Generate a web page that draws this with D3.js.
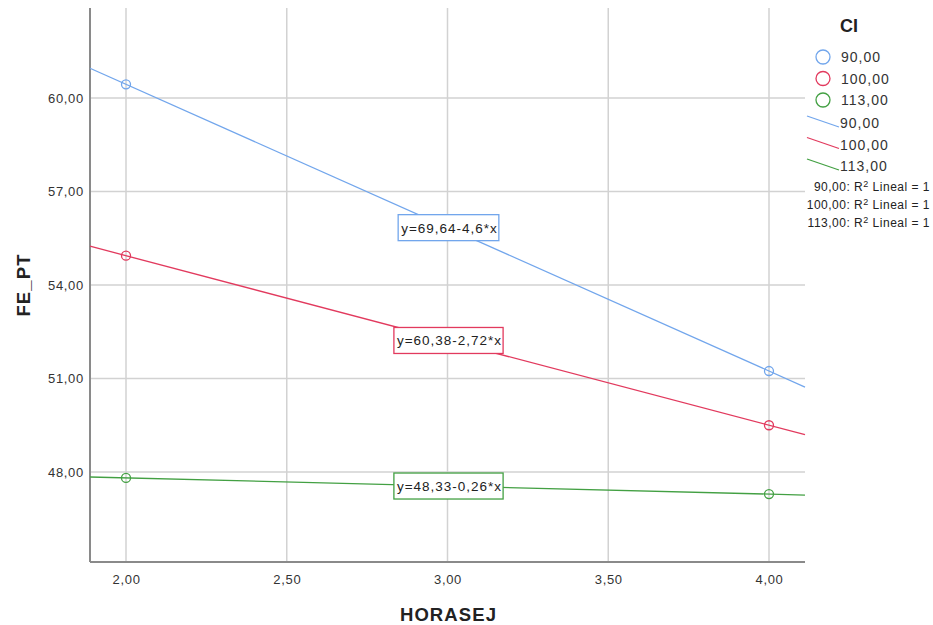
<!DOCTYPE html>
<html><head><meta charset="utf-8">
<script src="https://cdn.jsdelivr.net/npm/d3@7"></script>
<style>body{margin:0;background:#fff;font-family:"Liberation Sans",Arial,sans-serif}</style>
</head><body>
<svg id="c" width="933" height="625"></svg>
<script>
const groups = ["90,00", "100,00", "113,00"];
const colors = ["#72a6ec", "#e23a5e", "#43a043"];
const xValues = [2, 4];
const yValues90 = [60.44, 51.24];
const yValues100 = [54.94, 49.50];
const yValues113 = [47.81, 47.29];
const intercepts = [69.64, 60.38, 48.33];
const slopes = [-4.6, -2.72, -0.26];
const eqLabels = ["y=69,64-4,6*x", "y=60,38-2,72*x", "y=48,33-0,26*x"];
const xTicks = [2, 2.5, 3, 3.5, 4];
const yTicks = [48, 51, 54, 57, 60];
const r2Labels = ["90,00: R", "100,00: R", "113,00: R"];

const series = [yValues90, yValues100, yValues113];
const fmt = v => d3.format(".2f")(v).replace(".", ",");

const svg = d3.select("#c");
const L = 90, R = 805, T = 8, B = 562;
const x = d3.scaleLinear().domain([1.888, 4.112]).range([L, R]);
const y = d3.scaleLinear().domain([45.112, 62.888]).range([B, T]);

// grid
svg.append("g").selectAll("line").data(xTicks).join("line")
  .attr("x1", d => x(d)).attr("x2", d => x(d)).attr("y1", T).attr("y2", B)
  .attr("stroke", "#d2d2d2").attr("stroke-width", 1.5);
svg.append("g").selectAll("line").data(yTicks).join("line")
  .attr("x1", L).attr("x2", R).attr("y1", d => y(d)).attr("y2", d => y(d))
  .attr("stroke", "#d2d2d2").attr("stroke-width", 1.5);

// axes
const xa = svg.append("g").attr("transform", `translate(0,${B})`)
  .call(d3.axisBottom(x).tickValues(xTicks).tickFormat(fmt).tickSize(0).tickPadding(13));
const ya = svg.append("g").attr("transform", `translate(${L},0)`)
  .call(d3.axisLeft(y).tickValues(yTicks).tickFormat(fmt).tickSize(0).tickPadding(6));
[xa, ya].forEach(a => {
  a.select(".domain").attr("stroke", "#8a8a8a").attr("stroke-width", 2);
  a.selectAll("text").attr("font-size", 13).attr("letter-spacing", 0.7).attr("fill", "#333")
    .attr("font-family", "Liberation Sans, Arial, sans-serif");
});
ya.select(".domain").attr("d", `M0,${T}V${B}`);
xa.select(".domain").attr("d", `M0,0H${R - L}`).attr("transform", `translate(${L},0)`);

// fit lines
const [x0, x1] = x.domain();
series.forEach((s, i) => {
  svg.append("line")
    .attr("x1", x(x0)).attr("y1", y(intercepts[i] + slopes[i] * x0))
    .attr("x2", x(x1)).attr("y2", y(intercepts[i] + slopes[i] * x1))
    .attr("stroke", colors[i]).attr("stroke-width", 1.3);
});
// points
series.forEach((s, i) => {
  svg.append("g").selectAll("circle").data(s).join("circle")
    .attr("cx", (d, j) => x(xValues[j])).attr("cy", d => y(d)).attr("r", 4.5)
    .attr("fill", "none").attr("stroke", colors[i]).attr("stroke-width", 1.3);
});
// equation labels
eqLabels.forEach((t, i) => {
  const cx = x(3) + 2, cy = y(intercepts[i] + slopes[i] * 3);
  const g = svg.append("g");
  const txt = g.append("text").attr("x", cx).attr("y", cy + 5).attr("text-anchor", "middle")
    .attr("font-size", 13.5).attr("letter-spacing", 1).attr("fill", "#222").text(t);
  const bb = txt.node().getBBox();
  g.insert("rect", "text").attr("x", bb.x - 3).attr("y", cy - 13).attr("width", bb.width + 4).attr("height", 26)
    .attr("fill", "#fff").attr("stroke", colors[i]).attr("stroke-width", 1.3);
});

// axis titles
svg.append("text").attr("x", (L + R) / 2 + 1).attr("y", 621).attr("text-anchor", "middle")
  .attr("font-size", 18.5).attr("letter-spacing", 1.1).attr("font-weight", "bold").attr("fill", "#222").text("HORASEJ");
svg.append("text").attr("transform", "translate(30,285) rotate(-90)").attr("text-anchor", "middle")
  .attr("font-size", 18.5).attr("letter-spacing", 1.1).attr("font-weight", "bold").attr("fill", "#222").text("FE_PT");

// legend
svg.append("text").attr("x", 840).attr("y", 32).attr("font-size", 18).attr("font-weight", "bold")
  .attr("fill", "#222").text("CI");
groups.forEach((g, i) => {
  const cy = 57 + i * 21.5;
  svg.append("circle").attr("cx", 823).attr("cy", cy).attr("r", 7).attr("fill", "none")
    .attr("stroke", colors[i]).attr("stroke-width", 1.3);
  svg.append("text").attr("x", 841).attr("y", cy + 5).attr("font-size", 14).attr("letter-spacing", 1)
    .attr("fill", "#333").text(g);
  const ly = 122 + i * 21.5;
  svg.append("line").attr("x1", 807).attr("y1", ly - 6).attr("x2", 839).attr("y2", ly + 5)
    .attr("stroke", colors[i]).attr("stroke-width", 1.3);
  svg.append("text").attr("x", 840).attr("y", ly + 6).attr("font-size", 14).attr("letter-spacing", 1)
    .attr("fill", "#333").text(g);
});
r2Labels.forEach((t, i) => {
  const t0 = svg.append("text").attr("x", 930).attr("y", 191 + i * 18).attr("text-anchor", "end")
    .attr("font-size", 12).attr("letter-spacing", 0.5).attr("fill", "#222");
  t0.append("tspan").text(t);
  t0.append("tspan").attr("dy", -4).attr("font-size", 9).text("2");
  t0.append("tspan").attr("dy", 4).text(" Lineal = 1");
});
</script>
</body></html>
